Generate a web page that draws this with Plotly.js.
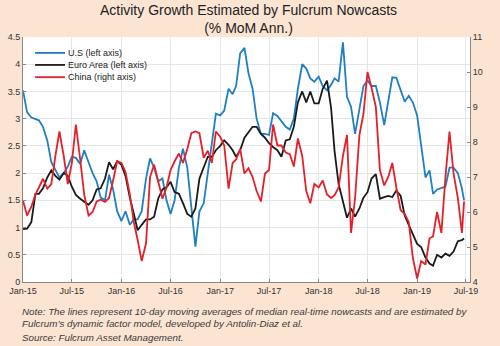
<!DOCTYPE html>
<html>
<head>
<meta charset="utf-8">
<script src="https://cdn.plot.ly/plotly-3.0.1.min.js"></script>
<style>html,body{margin:0;padding:0;background:#fce4d2;}#chart{width:500px;height:346px;}</style>
</head>
<body>
<div id="chart"></div>
<script>
// semi-monthly observation dates (1st and 16th of each month), Jan-15 .. Jun-19
const dates = [];
for (let y = 2015; y <= 2019; y++) {
  for (let m = 1; m <= 12; m++) {
    if (y === 2019 && m > 6) break;
    const mm = (m < 10 ? '0' : '') + m;
    dates.push(y + '-' + mm + '-01');
    dates.push(y + '-' + mm + '-16');
  }
}
dates.push('2019-06-24');

const usValues = [3.52,3.12,3.02,3.0,2.97,2.85,2.6,2.2,2.05,1.92,
2.0,2.12,2.3,2.28,2.17,2.42,2.2,2.0,1.85,1.55,
1.5,1.97,1.7,1.3,1.12,1.3,1.05,1.15,1.15,1.3,
1.9,2.27,2.1,1.85,1.9,1.5,1.25,1.5,2.1,2.45,
2.1,1.35,0.65,1.3,1.45,2.0,2.55,3.09,3.06,3.15,
3.55,3.45,3.6,4.2,4.3,3.83,3.55,3.0,2.72,2.72,
2.7,3.1,3.05,2.95,2.85,2.8,3.0,3.55,4.0,3.92,
3.74,3.68,3.77,3.6,3.52,3.62,3.74,3.68,4.4,3.4,
3.22,2.72,3.15,3.6,3.7,3.6,3.6,3.3,2.88,3.35,
3.76,3.75,3.52,3.31,3.42,3.3,3.06,2.5,1.92,2.05,
1.62,1.7,1.73,1.75,2.1,2.1,2.0,1.72,1.5];

const euroValues = [0.97,0.98,1.1,1.62,1.62,1.72,1.92,2.05,1.95,1.88,
2.0,1.95,1.75,1.6,1.53,1.48,1.42,1.5,1.7,1.72,
1.9,2.2,2.07,2.22,2.15,1.95,1.55,1.25,0.95,1.05,
1.15,1.15,1.2,1.53,1.7,1.74,1.84,1.65,1.62,1.45,
1.25,1.2,1.35,1.9,2.1,2.3,2.3,2.42,2.5,2.6,
2.52,2.42,2.3,2.42,2.65,2.75,2.85,2.85,2.72,2.65,
2.55,2.48,2.42,2.3,2.6,2.62,2.85,3.3,3.5,3.3,
3.5,3.28,3.28,3.55,3.7,3.2,2.4,1.8,1.47,1.18,
1.35,1.2,1.35,1.55,1.65,1.9,1.98,1.53,1.56,1.58,
1.56,1.68,1.58,1.22,1.05,0.88,0.7,0.64,0.45,0.34,
0.3,0.5,0.45,0.52,0.48,0.56,0.75,0.77,0.8];

const chinaValues = [6.33,5.9,6.15,6.5,6.7,6.95,6.67,6.8,7.6,8.3,
7.6,6.8,7.4,8.5,7.5,6.5,5.9,6.0,6.3,6.35,
6.29,6.4,6.9,7.45,7.4,7.14,6.5,5.7,5.2,4.6,
5.1,7.0,7.35,6.9,6.38,6.7,7.2,7.45,7.67,7.4,
7.8,8.25,8.3,8.25,7.55,7.75,7.4,8.3,8.15,7.9,
6.67,7.4,7.5,7.8,7.1,7.25,7.0,6.6,6.3,7.1,
7.2,8.5,7.9,7.9,7.7,7.65,7.3,8.1,7.6,6.6,
6.25,6.8,6.7,6.9,6.5,6.4,6.48,6.7,7.6,8.2,
5.4,6.4,8.2,8.8,10.0,9.55,9.0,7.2,6.76,7.0,
7.4,6.7,6.05,5.95,5.71,4.7,4.1,4.6,4.5,5.25,
5.3,6.0,5.4,7.0,8.3,7.1,6.4,5.4,6.3];

const seriesNames = ['U.S (left axis)', 'Euro Area (left axis)', 'China (right axis)'];
const seriesColors = ['#1f7fc2', '#1a1a1a', '#e4202a'];
const tickDates = ['2015-01-01','2015-07-01','2016-01-01','2016-07-01','2017-01-01','2017-07-01','2018-01-01','2018-07-01','2019-01-01','2019-07-01'];
const tickLabels = ['Jan-15','Jul-15','Jan-16','Jul-16','Jan-17','Jul-17','Jan-18','Jul-18','Jan-19','Jul-19'];
const titleText = 'Activity Growth Estimated by Fulcrum Nowcasts<br>(% MoM Ann.)';
const noteLines = [
  "Note: The lines represent 10-day moving averages of median real-time nowcasts and are estimated by",
  "Fulcrum\u2019s dynamic factor model, developed by Antolin-Diaz et al.",
  "Source: Fulcrum Asset Management."
];

const FONT = 'Liberation Sans, Arial, sans-serif';

const traces = [
  {x: dates, y: usValues, name: seriesNames[0], type: 'scatter', mode: 'lines',
   line: {color: seriesColors[0], width: 1.8}, yaxis: 'y'},
  {x: dates, y: euroValues, name: seriesNames[1], type: 'scatter', mode: 'lines',
   line: {color: seriesColors[1], width: 1.8}, yaxis: 'y'},
  {x: dates, y: chinaValues, name: seriesNames[2], type: 'scatter', mode: 'lines',
   line: {color: seriesColors[2], width: 1.8}, yaxis: 'y2'}
];

// note lines under the chart
const noteY = [-0.122, -0.171, -0.228];
const annotations = noteLines.map((t, i) => ({
  text: t, xref: 'paper', yref: 'paper', x: -0.006, y: noteY[i],
  xanchor: 'left', yanchor: 'middle', showarrow: false,
  font: {family: FONT, size: 9.8, color: '#3a3a3a', style: 'italic'}
}));

// compact legend (drawn as line + label, tighter than plotly's built-in legend rows)
const legY = [0.935, 0.886, 0.836];
const shapes = [];
seriesNames.forEach((n, i) => {
  shapes.push({type: 'line', xref: 'paper', yref: 'paper', x0: 0.027, x1: 0.094,
               y0: legY[i], y1: legY[i], line: {color: seriesColors[i], width: 1.8}});
  annotations.push({text: n, xref: 'paper', yref: 'paper', x: 0.097, y: legY[i],
                    xanchor: 'left', yanchor: 'middle', showarrow: false,
                    font: {family: FONT, size: 9, color: '#222'}});
});

const layout = {
  width: 500, height: 346,
  paper_bgcolor: '#fce4d2', plot_bgcolor: '#ffffff',
  margin: {l: 23, r: 30, t: 37, b: 64},
  showlegend: false,
  title: {text: titleText, font: {family: FONT, size: 14, color: '#222'},
          x: 0.497, xanchor: 'center', y: 0.957, yanchor: 'top', yref: 'container'},
  xaxis: {type: 'date', range: ['2015-01-01', '2019-07-16'],
          tickvals: tickDates, ticktext: tickLabels,
          ticks: 'inside', ticklen: 3, tickcolor: '#888',
          showgrid: true, gridcolor: '#e6e6e6', gridwidth: 1,
          showline: true, linecolor: '#888', linewidth: 1,
          tickfont: {family: FONT, size: 9, color: '#333'}, zeroline: false},
  yaxis: {range: [0, 4.5], dtick: 0.5, tick0: 0,
          ticks: 'inside', ticklen: 3, tickcolor: '#888',
          showgrid: true, gridcolor: '#e6e6e6', gridwidth: 1,
          showline: true, linecolor: '#888', linewidth: 1, zeroline: false,
          tickfont: {family: FONT, size: 9, color: '#333'}},
  yaxis2: {range: [4, 11], dtick: 1, tick0: 4, overlaying: 'y', side: 'right',
          ticks: 'inside', ticklen: 3, tickcolor: '#888',
          showgrid: false, showline: true, linecolor: '#888', linewidth: 1, zeroline: false,
          tickfont: {family: FONT, size: 9, color: '#333'}},
  shapes: shapes,
  annotations: annotations
};

Plotly.newPlot('chart', traces, layout, {displayModeBar: false, staticPlot: true});
</script>
</body>
</html>
